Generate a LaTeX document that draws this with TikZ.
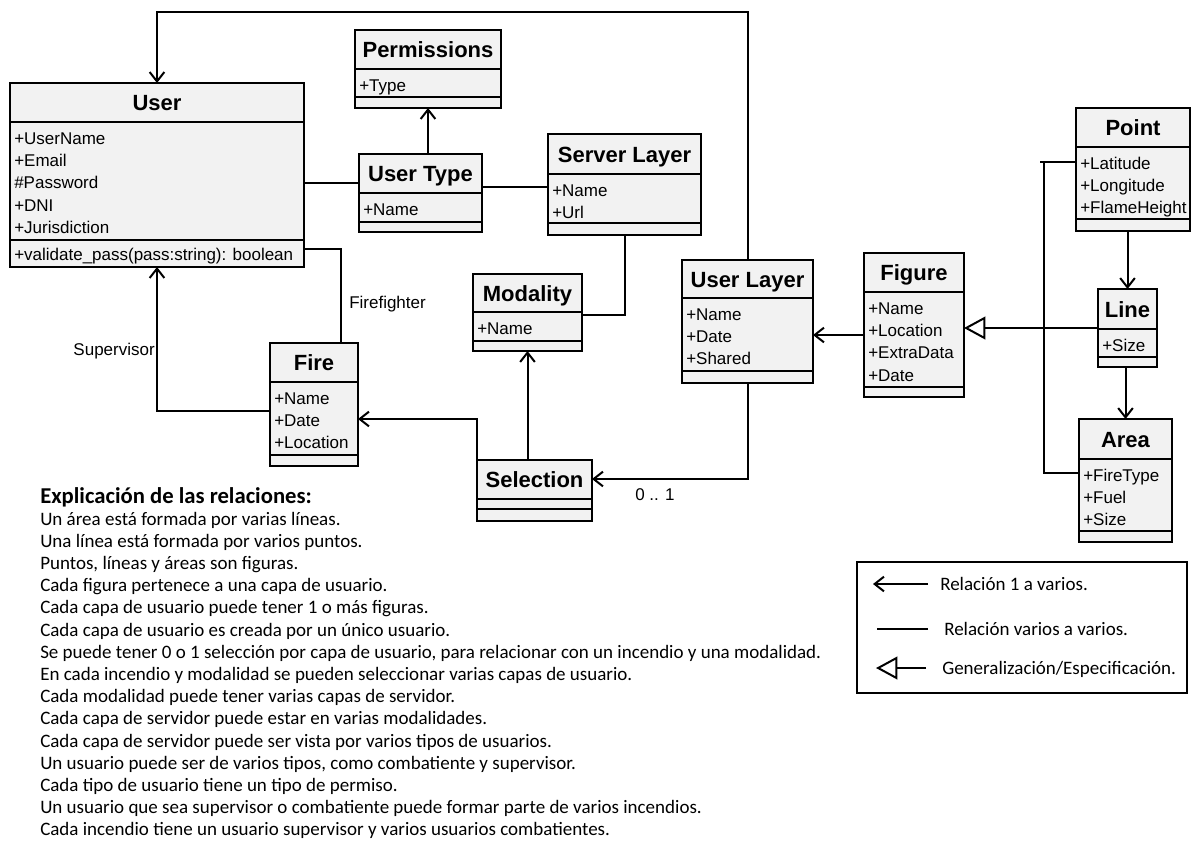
\documentclass[tikz,border=0pt]{standalone}
\usepackage{fontspec}
\setmainfont{Liberation Sans}
\newfontfamily\notefont{Carlito}
\usetikzlibrary{arrows.meta,calc,fit}
\definecolor{boxgray}{HTML}{F2F2F2}

% class box: name, left, top, right, header bottom, attribute bottom, bottom, title
\newcommand\umlclass[8]{%
  \coordinate (#1-nw) at (#2,#3);
  \coordinate (#1-se) at (#4,#7);
  \node[classbox, fit=(#1-nw)(#1-se)] (#1) {};
  \draw[divider] (#2,#5) -- (#4,#5);
  \draw[divider] (#2,#6) -- (#4,#6);
  \node[classtitle] at ({(#2+#4)/2},{(#3+#5)/2+8}) {#8};
}
% attribute rows: left, header bottom, list of attributes
\newcommand\umlattrs[3]{%
  \foreach \a [count=\i from 0] in {#3}
    \node[attr] at (#1+4,{#2+16.3+\i*22.3+6}) {\a};
}

\begin{document}
\begin{tikzpicture}[x=0.75pt,y=-0.75pt,
  classbox/.style={draw=black,line width=1.6pt,fill=boxgray,inner sep=0pt,outer sep=0pt},
  divider/.style={draw=black,line width=1.6pt},
  classtitle/.style={font=\fontsize{16.5}{18}\selectfont\bfseries,anchor=base,inner sep=0pt},
  attr/.style={font=\fontsize{12.75}{14}\selectfont,anchor=base west,inner sep=0pt},
  lbl/.style={font=\fontsize{12.75}{14}\selectfont,inner sep=0pt},
  plain/.style={draw=black,line width=1.5pt},
  onemany/.style={plain,-{Straight Barb[length=7pt,width=11pt]}},
  gen/.style={plain,-{Triangle[open,length=16pt,width=17pt]}},
  legendtxt/.style={font=\notefont\fontsize{14.25}{16}\selectfont,anchor=base west,inner sep=0pt},
  expl/.style={font=\notefont\fontsize{14.25}{16}\selectfont,anchor=base west,inner sep=0pt},
  expltitle/.style={font=\notefont\fontsize{17}{19}\selectfont\bfseries,anchor=base west,inner sep=0pt}]

\useasboundingbox (0,0) rectangle (1192,840);

% ---------- classes ----------
\umlclass{user}{10}{83}{304}{122}{240}{267}{User}
\umlattrs{10}{122}{+UserName,+Email,\#Password,+DNI,+Jurisdiction}
\node[attr] at (14,260) {+validate\_pass(pass:string): boolean};

\umlclass{perm}{355}{30}{501}{69}{97}{108}{Permissions}
\umlattrs{355}{69}{+Type}

\umlclass{utype}{359}{154}{482}{193}{222}{232}{User Type}
\umlattrs{359}{193}{+Name}

\umlclass{slayer}{548}{134}{701}{174}{223}{235}{Server Layer}
\umlattrs{548}{174}{+Name,+Url}

\umlclass{modal}{473}{274}{582}{312}{341}{351}{Modality}
\umlattrs{473}{312}{+Name}

\umlclass{sel}{477}{460}{592}{499}{509}{521}{Selection}

\umlclass{ulayer}{682}{260}{813}{298}{371}{383}{User Layer}
\umlattrs{682}{298}{+Name,+Date,+Shared}

\umlclass{fig}{864}{253}{964}{292}{387}{397}{Figure}
\umlattrs{864}{292}{+Name,+Location,+ExtraData,+Date}

\umlclass{fire}{270}{343}{358}{382}{455}{466}{Fire}
\umlattrs{270}{382}{+Name,+Date,+Location}

\umlclass{point}{1076}{108}{1190}{147}{219}{231}{Point}
\umlattrs{1076}{147}{+Latitude,+Longitude,+FlameHeight}

\umlclass{lin}{1098}{289}{1157}{329}{357}{367}{Line}
\umlattrs{1098}{329}{+Size}

\umlclass{area}{1079}{419}{1172}{459}{531}{542}{Area}
\umlattrs{1079}{459}{+FireType,+Fuel,+Size}

% ---------- relations ----------
\coordinate (topline) at (0,12);
\draw[onemany] (ulayer.north) -- (ulayer.north |- topline) -| (user.north);
\draw[onemany] (perm.south |- utype.north) -- (perm.south);
\draw[plain] (user.east |- 0,183) -- (utype.west |- 0,183);
\draw[plain] (utype.east |- 0,187) -- (slayer.west |- 0,187);
\draw[plain] (slayer.south) |- (modal.east |- 0,315);
\draw[onemany] (modal.south |- sel.north) -- (modal.south);
\draw[onemany] (sel.north west) |- (fire.east |- 0,419);
\draw[onemany] (ulayer.south) |- (sel.east |- 0,479);
\draw[onemany] (fig.west |- 0,335) -- (ulayer.east |- 0,335);
\draw[gen] (lin.west) -- (fig.east |- lin.west);
\draw[onemany] (lin.north |- point.south) -- (lin.north);
\draw[onemany] (area.north |- lin.south) -- (area.north);
\coordinate (busend) at (1040,162);
\coordinate (bus) at (1044,162);
\draw[plain] (busend) -- (point.west |- busend);
\draw[plain] (bus) |- (area.west |- 0,473);
\draw[onemany] (fire.west |- 0,411) -| (user.south);
\draw[plain] (user.east |- 0,249) -| (fire.north -| 341,0);

\node[lbl,anchor=base east] (suplbl) at (155,355) {Supervisor};
\node[lbl,anchor=base west] (fflbl) at (349,308) {Firefighter};
\node[lbl,anchor=base] (multlbl) at (655,500) {0 .. 1};

% ---------- legend ----------
\coordinate (lg-nw) at (857,562);
\coordinate (lg-se) at (1187,693);
\node[draw=black,line width=1.4pt,inner sep=0pt,outer sep=0pt,fit=(lg-nw)(lg-se)] (legend) {};
\coordinate (l1a) at (928,584); \coordinate (l1b) at (873,584);
\draw[onemany] (l1a) -- (l1b);
\node[legendtxt] at (940,590) {Relación 1 a varios.};
\coordinate (l2a) at (928,629); \coordinate (l2b) at (877,629);
\draw[plain] (l2a) -- (l2b);
\node[legendtxt] at (944,635) {Relación varios a varios.};
\coordinate (l3a) at (926,668); \coordinate (l3b) at (876,668);
\draw[gen] (l3a) -- (l3b);
\node[legendtxt] at (942,674) {Generalización/Especificación.};

% ---------- notes ----------
\node[expltitle] at (40,503) {Explicación de las relaciones:};
\foreach \t [count=\i from 0] in {
  {Un área está formada por varias líneas.},
  {Una línea está formada por varios puntos.},
  {Puntos, líneas y áreas son figuras.},
  {Cada figura pertenece a una capa de usuario.},
  {Cada capa de usuario puede tener 1 o más figuras.},
  {Cada capa de usuario es creada por un único usuario.},
  {Se puede tener 0 o 1 selección por capa de usuario, para relacionar con un incendio y una modalidad.},
  {En cada incendio y modalidad se pueden seleccionar varias capas de usuario.},
  {Cada modalidad puede tener varias capas de servidor.},
  {Cada capa de servidor puede estar en varias modalidades.},
  {Cada capa de servidor puede ser vista por varios tipos de usuarios.},
  {Un usuario puede ser de varios tipos, como combatiente y supervisor.},
  {Cada tipo de usuario tiene un tipo de permiso.},
  {Un usuario que sea supervisor o combatiente puede formar parte de varios incendios.},
  {Cada incendio tiene un usuario supervisor y varios usuarios combatientes.}}
  \node[expl] at (40,{525+\i*22.2}) {\t};

\end{tikzpicture}
\end{document}
